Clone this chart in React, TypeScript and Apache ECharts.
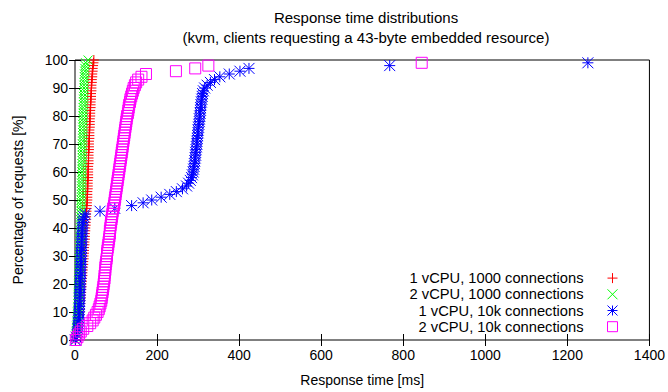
import React, { useEffect, useRef } from "react";
import * as echarts from "echarts";

// Percentage of requests served (y values)
const percent = [
  0, 1, 2, 3, 4, 5, 6, 7, 8, 9, 10, 11, 12, 13, 14, 15, 16, 17, 18, 19,
  20, 21, 22, 23, 24, 25, 26, 27, 28, 29, 30, 31, 32, 33, 34, 35, 36, 37, 38, 39,
  40, 41, 42, 43, 44, 45, 46, 47, 48, 49, 50, 51, 52, 53, 54, 55, 56, 57, 58, 59,
  60, 61, 62, 63, 64, 65, 66, 67, 68, 69, 70, 71, 72, 73, 74, 75, 76, 77, 78, 79,
  80, 81, 82, 83, 84, 85, 86, 87, 88, 89, 90, 91, 92, 93, 94, 95, 96, 97, 98, 99, 100,
];

// Response time [ms] at each percentage
const oneCpu1000 = [
  1, 3, 4, 5, 6, 7, 8, 9, 10, 10, 11, 12, 12, 13, 13, 14, 14, 15, 15, 16,
  16, 17, 17, 18, 18, 19, 19, 20, 20, 21, 21, 22, 22, 22, 23, 23, 24, 24, 24, 25,
  25, 26, 26, 26, 27, 27, 28, 28, 29, 29, 30, 30, 30, 30, 31, 31, 31, 31, 32, 32,
  32, 32, 32, 33, 33, 33, 33, 33, 34, 34, 34, 34, 35, 35, 35, 35, 36, 36, 36, 36,
  37, 37, 37, 38, 38, 38, 39, 39, 39, 40, 40, 40, 41, 41, 42, 42, 43, 43, 44, 45, 46,
];

const twoCpu1000 = [
  1, 2, 3, 3, 4, 4, 5, 5, 6, 6, 6, 7, 7, 7, 8, 8, 8, 8, 9, 9,
  9, 9, 10, 10, 10, 10, 11, 11, 11, 11, 12, 12, 12, 12, 12, 13, 13, 13, 13, 13,
  14, 14, 14, 14, 14, 15, 15, 15, 15, 15, 15, 16, 16, 16, 16, 16, 16, 17, 17, 17,
  17, 17, 17, 17, 18, 18, 18, 18, 18, 18, 18, 19, 19, 19, 19, 19, 19, 19, 20, 20,
  20, 20, 20, 20, 21, 21, 21, 21, 21, 22, 22, 22, 22, 23, 23, 23, 24, 24, 25, 26, 32,
];

const oneCpu10k = [
  1, 3, 5, 6, 7, 8, 8, 9, 9, 10, 10, 10, 11, 11, 11, 11, 12, 12, 12, 12,
  13, 13, 13, 13, 14, 14, 14, 14, 15, 15, 15, 15, 16, 16, 16, 16, 17, 17, 17, 18,
  18, 19, 19, 20, 22, 25, 61, 97, 138, 166, 187, 210, 231, 247, 262, 272, 277, 281, 284, 286,
  288, 289, 290, 291, 292, 293, 294, 294, 295, 296, 297, 297, 298, 299, 300, 300, 301, 302, 303, 303,
  304, 305, 306, 306, 307, 308, 309, 310, 311, 313, 316, 322, 330, 340, 353, 376, 402, 424, 767, 1250,
];

const twoCpu10k = [
  2, 6, 10, 14, 20, 30, 37, 43, 47, 51, 55, 58, 60, 62, 64, 65, 66, 67, 68, 69,
  70, 71, 72, 72, 73, 74, 74, 75, 76, 77, 78, 78, 79, 80, 81, 82, 83, 84, 85, 85,
  86, 87, 88, 89, 90, 91, 92, 93, 95, 96, 97, 98, 99, 100, 101, 102, 103, 104, 105, 106,
  107, 108, 109, 110, 111, 112, 113, 114, 115, 116, 117, 118, 119, 120, 121, 122, 123, 124, 125, 126,
  127, 129, 130, 131, 132, 134, 135, 137, 139, 141, 143, 146, 149, 154, 162, 173, 246, 293, 325, 845,
];

const seriesNames = [
  "1 vCPU, 1000 connections",
  "2 vCPU, 1000 connections",
  "1 vCPU, 10k connections",
  "2 vCPU, 10k connections",
];
const seriesValues = [oneCpu1000, twoCpu1000, oneCpu10k, twoCpu10k];
const seriesColors = ["#ff0000", "#00ff00", "#0000ff", "#ff00ff"];
const seriesSymbols = [
  "path://M5,0L5,10M0,5L10,5",
  "path://M0,0L10,10M10,0L0,10",
  "path://M5,0L5,10M0,5L10,5M0,0L10,10M10,0L0,10",
  "path://M0,0L10,0L10,10L0,10Z",
];
const seriesSizes = [10, 9, 11, 11];

const titleLines = [
  "Response time distributions",
  "(kvm, clients requesting a 43-byte embedded resource)",
];

const FONT = "'Liberation Sans', Arial, sans-serif";

export default function App() {
  const ref = useRef<HTMLDivElement>(null);
  useEffect(() => {
    if (!ref.current) return;
    const chart = echarts.init(ref.current, undefined, { renderer: "svg" });
    const axisCommon = {
      type: "value" as const,
      axisLine: { show: false },
      splitLine: { show: false },
      axisTick: { inside: true, length: 6, lineStyle: { color: "#000", width: 1 } },
    };
    chart.setOption({
      animation: false,
      backgroundColor: "#fff",
      textStyle: { fontFamily: FONT },
      graphic: titleLines.map((t, i) => ({
        type: "text",
        x: 366,
        y: 17 + i * 20,
        style: {
          text: t,
          align: "center",
          verticalAlign: "middle",
          textAlign: "center",
          textVerticalAlign: "middle",
          fontSize: 15,
          fontFamily: FONT,
          fill: "#000",
        },
      })),
      grid: {
        left: 75,
        right: 18,
        top: 60,
        bottom: 49,
        show: true,
        borderColor: "#000",
        borderWidth: 1,
        backgroundColor: "transparent",
      },
      legend: {
        orient: "vertical",
        right: 48,
        top: 270,
        align: "right",
        itemWidth: 48,
        itemHeight: 10,
        itemGap: 0,
        padding: 0,
        selectedMode: false,
        textStyle: {
          fontSize: 14.7,
          color: "#000",
          fontFamily: FONT,
          width: 180,
          align: "right",
          lineHeight: 16.2,
        },
        data: seriesNames.map((n, i) => ({
          name: n,
          icon: seriesSymbols[i],
          itemStyle: { color: "none", borderColor: seriesColors[i], borderWidth: 1 },
        })),
      },
      xAxis: [
        {
          ...axisCommon,
          position: "bottom",
          min: 0,
          max: 1400,
          interval: 200,
          axisLabel: {
            fontSize: 14,
            color: "#000",
            margin: 8,
            fontFamily: FONT,
            formatter: (v: number) => String(v),
          },
          name: "Response time [ms]",
          nameLocation: "middle",
          nameGap: 33,
          nameTextStyle: { fontSize: 14, color: "#000", fontFamily: FONT },
        },
        {
          ...axisCommon,
          position: "top",
          min: 0,
          max: 1400,
          interval: 200,
          axisLabel: { show: false },
        },
      ],
      yAxis: [
        {
          ...axisCommon,
          position: "left",
          min: 0,
          max: 100,
          interval: 10,
          axisLabel: { fontSize: 14, color: "#000", margin: 7, fontFamily: FONT },
          name: "Percentage of requests [%]",
          nameLocation: "middle",
          nameGap: 50,
          nameTextStyle: { fontSize: 14, color: "#000", fontFamily: FONT },
        },
        {
          ...axisCommon,
          position: "right",
          min: 0,
          max: 100,
          interval: 10,
          axisLabel: { show: false },
        },
      ],
      series: seriesNames.map((n, i) => ({
        name: n,
        type: "scatter",
        xAxisIndex: 0,
        yAxisIndex: 0,
        symbol: seriesSymbols[i],
        symbolSize: seriesSizes[i],
        itemStyle: { color: "none", borderColor: seriesColors[i], borderWidth: 1, opacity: 1 },
        emphasis: { disabled: true },
        data: seriesValues[i].map((v, j) => [v, percent[j]]),
      })),
    });
    return () => chart.dispose();
  }, []);
  return (
    <div
      ref={ref}
      style={{ position: "fixed", left: 0, top: 0, width: 668, height: 392 }}
    />
  );
}
